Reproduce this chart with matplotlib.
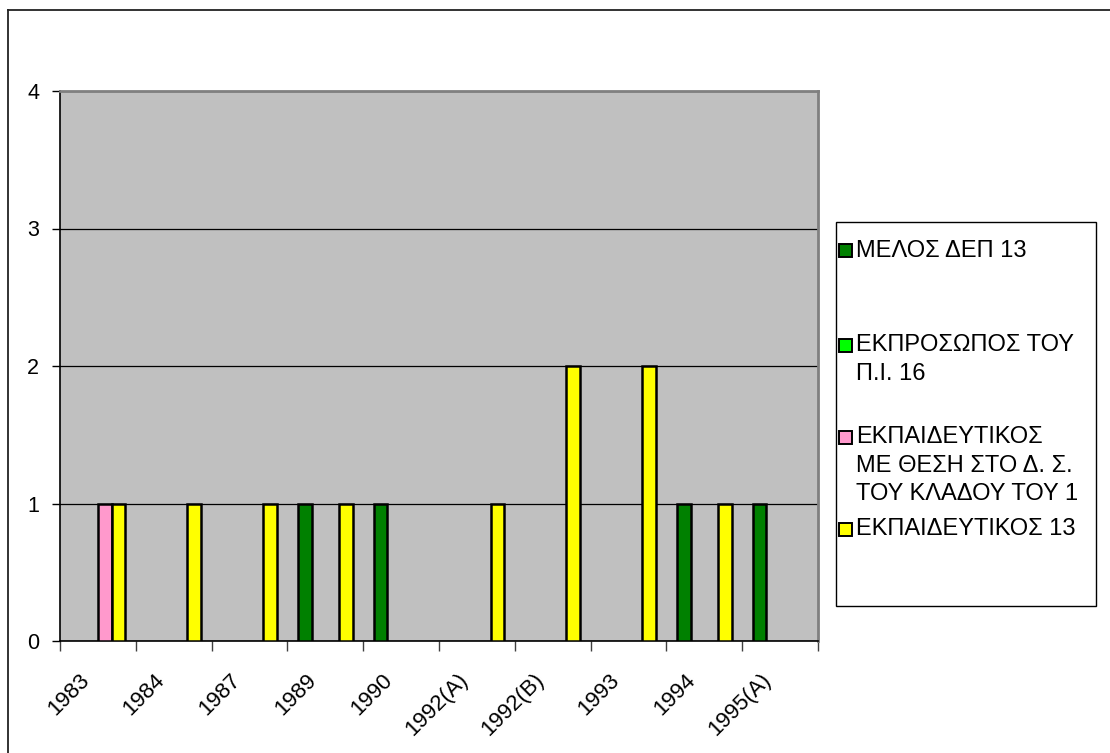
import numpy as np
import matplotlib
matplotlib.use('Agg')
import matplotlib.pyplot as plt
import matplotlib.patches as mpatches
from matplotlib.lines import Line2D
from matplotlib.transforms import ScaledTranslation

plt.rcParams['font.family'] = ['Liberation Sans', 'DejaVu Sans']

# ── Data ──────────────────────────────────────────────────────────────────
years = ['1983', '1984', '1987', '1989', '1990',
         '1992(A)', '1992(B)', '1993', '1994', '1995(A)']
series_names = ['ΜΕΛΟΣ ΔΕΠ 13',
                'ΕΚΠΡΟΣΩΠΟΣ ΤΟΥ\nΠ.Ι. 16',
                'ΕΚΠΑΙΔΕΥΤΙΚΟΣ\nΜΕ ΘΕΣΗ ΣΤΟ Δ. Σ.\nΤΟΥ ΚΛΑΔΟΥ ΤΟΥ 1',
                'ΕΚΠΑΙΔΕΥΤΙΚΟΣ 13']
melos_dep    = [0, 0, 0, 1, 1, 0, 0, 0, 1, 1]
ekprosopos   = [0, 0, 0, 0, 0, 0, 0, 0, 0, 0]
ekp_ds       = [1, 0, 0, 0, 0, 0, 0, 0, 0, 0]
ekpaideutikos = [1, 1, 1, 1, 0, 1, 2, 2, 1, 0]
colors = ['#008000', '#00FF00', '#FF99CC', '#FFFF00']

W, H = 1110, 753
fig = plt.figure(figsize=(W / 100, H / 100), dpi=100)
fig.patch.set_facecolor('white')


def fx(x):
    return x / W


def fy(y):
    return 1 - y / H


# plot area in pixels: x 60..818, y 91..641
ax = fig.add_axes([fx(60), fy(641), fx(818 - 60), (641 - 91) / H])
ax.set_facecolor('#C0C0C0')

x = np.arange(len(years))
bw = 1 / 5.5
all_series = [melos_dep, ekprosopos, ekp_ds, ekpaideutikos]
for i, (vals, col) in enumerate(zip(all_series, colors)):
    v = np.array(vals, dtype=float)
    v[v == 0] = np.nan   # Excel shows nothing for zero values
    ax.bar(x + (i - 1.5) * bw, v, width=bw, color=col, edgecolor='black',
           linewidth=1.8, zorder=3)

ax.set_xlim(-0.5, len(years) - 0.5)
ax.set_ylim(0, 4)
ax.set_yticks([0, 1, 2, 3, 4])
ax.yaxis.grid(True, color='black', lw=0.9, zorder=1)
ax.set_axisbelow(True)
ax.tick_params(axis='y', length=6, width=1, pad=9, labelsize=15.5)

# category labels at centres, tick marks on the boundaries
ax.set_xticks(x)
ax.set_xticklabels(years, rotation=45, ha='right', va='center',
                   rotation_mode='anchor', fontsize=16)
ax.tick_params(axis='x', which='major', length=0, pad=26)
ax.set_xticks(np.arange(-0.5, len(years)), minor=True)
ax.tick_params(axis='x', which='minor', length=7, width=1, color='#404040')
offset = ScaledTranslation(-12 / 100, 0, fig.dpi_scale_trans)
for lbl in ax.get_xticklabels():
    lbl.set_transform(lbl.get_transform() + offset)

for s in ['left', 'bottom']:
    ax.spines[s].set_color('black')
    ax.spines[s].set_linewidth(1.2)
for s in ['top', 'right']:
    ax.spines[s].set_color('#808080')
    ax.spines[s].set_linewidth(2)

# ── Legend (Excel style, fixed slots) ─────────────────────────────────────
box = mpatches.Rectangle((fx(836), fy(606)), fx(1096 - 836), (606 - 222) / H,
                         transform=fig.transFigure, facecolor='white',
                         edgecolor='black', lw=1)
fig.patches.append(box)
slot_y = [251, 345, 437, 529]
line_pitch = 28.5
for name, col, y0 in zip(series_names, colors, slot_y):
    sq = mpatches.Rectangle((fx(839), fy(y0 + 6.5)), fx(13), 13 / H,
                            transform=fig.transFigure, facecolor=col,
                            edgecolor='black', lw=1.4)
    fig.patches.append(sq)
    for k, line in enumerate(name.split('\n')):
        fig.text(fx(856), fy(y0 + k * line_pitch), line, ha='left',
                 va='center', fontsize=17, color='black')

# outer chart-area border (top and left edges visible)
fig.lines.append(Line2D([fx(8), 1], [fy(9.5), fy(9.5)],
                        transform=fig.transFigure, color='#222222', lw=1.3))
fig.lines.append(Line2D([fx(8), fx(8)], [fy(9.5), 0],
                        transform=fig.transFigure, color='#222222', lw=1.3))

fig.savefig('out.png', dpi=100)
